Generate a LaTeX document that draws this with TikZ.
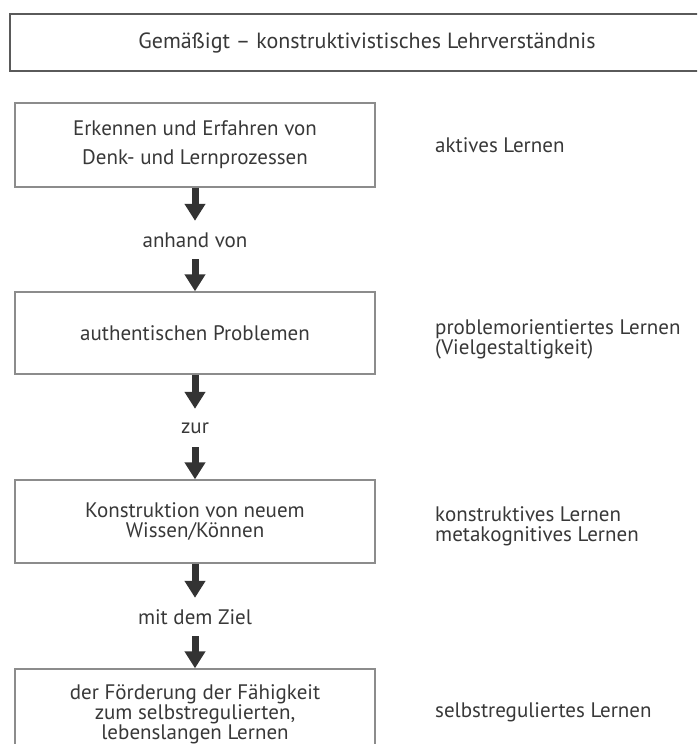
\documentclass[tikz,border=0pt]{standalone}
\usepackage{fontspec}
\setmainfont{PT Sans}
\usetikzlibrary{arrows.meta}
\definecolor{txt}{HTML}{383838}
\definecolor{frame}{HTML}{8C8C8C}
\definecolor{topframe}{HTML}{5A5A5A}
\definecolor{arr}{HTML}{333333}
\begin{document}
\begin{tikzpicture}[x=1pt,y=-1pt,
  every node/.style={text=txt,font=\fontsize{21}{20}\selectfont},
  stepbox/.style={draw=frame,line width=1.4pt,minimum width=360pt,align=center,inner sep=0pt},
  linklabel/.style={minimum height=38pt,inner sep=0pt},
  sidelabel/.style={anchor=west,align=left,inner sep=0pt},
  fatarrow/.style={draw=arr,line width=7pt,-{Triangle[width=20pt,length=17pt]}}]
\useasboundingbox (0,0) rectangle (697,744);
\clip (0,0) rectangle (697,744);
% title box
\node[draw=topframe,line width=2pt,minimum width=714pt,minimum height=57pt,inner sep=0pt,font=\fontsize{22}{22}\selectfont] (title) at (367,42.5) {Gemäßigt – konstruktivistisches Lehrverständnis};
% step boxes
\node[stepbox,minimum height=84pt,font=\fontsize{21}{29}\selectfont] (b1) at (195,145) {Erkennen und Erfahren von\\Denk- und Lernprozessen};
\node[stepbox,minimum height=82pt] (b2) at (195,333) {authentischen Problemen};
\node[stepbox,minimum height=83pt] (b3) at (195,521.5) {Konstruktion von neuem\\Wissen/Können};
\node[stepbox,minimum height=90pt,font=\fontsize{21}{20}\selectfont] (b4) at (195,714) {der Förderung der Fähigkeit\\zum selbstregulierten,\\lebenslangen Lernen};
% link labels
\node[linklabel] (l1) at (195,240) {anhand von};
\node[linklabel] (l2) at (195,428) {zur};
\node[linklabel] (l3) at (195,617) {mit dem Ziel};
% arrows
\draw[fatarrow] (b1.south) -- (l1.north);
\draw[fatarrow] (l1.south) -- (b2.north);
\draw[fatarrow] (b2.south) -- (l2.north);
\draw[fatarrow] (l2.south) -- (b3.north);
\draw[fatarrow] (b3.south) -- (l3.north);
\draw[fatarrow] (l3.south) -- (b4.north);
% side labels
\node[sidelabel] (s1) at (435,145) {aktives Lernen};
\node[sidelabel,font=\fontsize{21}{20}\selectfont] (s2) at (435,339) {problemorientiertes Lernen\\(Vielgestaltigkeit)};
\node[sidelabel,font=\fontsize{21}{20}\selectfont] (s3) at (435,526) {konstruktives Lernen\\metakognitives Lernen};
\node[sidelabel] (s4) at (435,712) {selbstreguliertes Lernen};
\end{tikzpicture}
\end{document}
